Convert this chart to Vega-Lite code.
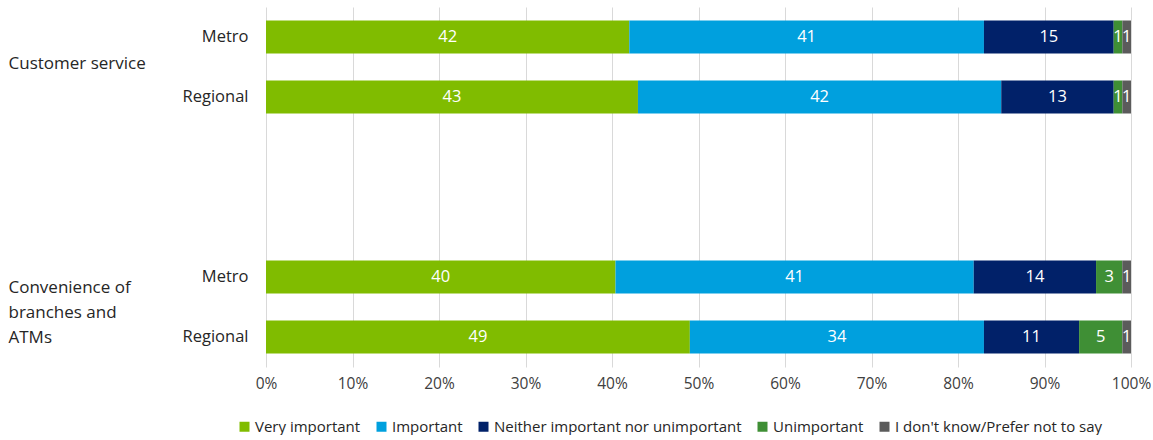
{
  "$schema": "https://vega.github.io/schema/vega-lite/v6.json",
  "width": 865,
  "height": 360,
  "padding": {"left": 8, "top": 7, "right": 0, "bottom": 0},
  "background": "white",
  "config": {
    "view": {"stroke": null},
    "font": "Open Sans",
    "axis": {"labelFont": "Open Sans", "labelColor": "#404040"},
    "legend": {"labelFont": "Open Sans"}
  },
  "data": {
    "values": [
      {"row": "CS|Metro", "response": "Very important", "k": 1, "pct": 42},
      {"row": "CS|Metro", "response": "Important", "k": 2, "pct": 41},
      {"row": "CS|Metro", "response": "Neither important nor unimportant", "k": 3, "pct": 15},
      {"row": "CS|Metro", "response": "Unimportant", "k": 4, "pct": 1},
      {"row": "CS|Metro", "response": "I don't know/Prefer not to say", "k": 5, "pct": 1},
      {"row": "CS|Regional", "response": "Very important", "k": 1, "pct": 43},
      {"row": "CS|Regional", "response": "Important", "k": 2, "pct": 42},
      {"row": "CS|Regional", "response": "Neither important nor unimportant", "k": 3, "pct": 13},
      {"row": "CS|Regional", "response": "Unimportant", "k": 4, "pct": 1},
      {"row": "CS|Regional", "response": "I don't know/Prefer not to say", "k": 5, "pct": 1},
      {"row": "CB|Metro", "response": "Very important", "k": 1, "pct": 40},
      {"row": "CB|Metro", "response": "Important", "k": 2, "pct": 41},
      {"row": "CB|Metro", "response": "Neither important nor unimportant", "k": 3, "pct": 14},
      {"row": "CB|Metro", "response": "Unimportant", "k": 4, "pct": 3},
      {"row": "CB|Metro", "response": "I don't know/Prefer not to say", "k": 5, "pct": 1},
      {"row": "CB|Regional", "response": "Very important", "k": 1, "pct": 49},
      {"row": "CB|Regional", "response": "Important", "k": 2, "pct": 34},
      {"row": "CB|Regional", "response": "Neither important nor unimportant", "k": 3, "pct": 11},
      {"row": "CB|Regional", "response": "Unimportant", "k": 4, "pct": 5},
      {"row": "CB|Regional", "response": "I don't know/Prefer not to say", "k": 5, "pct": 1}
    ]
  },
  "encoding": {
    "y": {
      "field": "row",
      "type": "nominal",
      "scale": {
        "domain": ["CS|Metro", "CS|Regional", "gap1", "gap2", "CB|Metro", "CB|Regional"],
        "paddingInner": 0.45,
        "paddingOuter": 0.225
      }
    }
  },
  "layer": [
    {
      "mark": {"type": "bar"},
      "encoding": {
        "y": {
          "field": "row",
          "type": "nominal",
          "title": null,
          "axis": {
            "orient": "left",
            "domain": false,
            "ticks": false,
            "tickSize": 0,
            "labelPadding": 18,
            "labelFontSize": 16.5,
            "labelColor": "#262626",
            "labelExpr": "indexof(datum.label, '|') >= 0 ? split(datum.label, '|')[1] : ''"
          }
        },
        "x": {
          "field": "pct",
          "type": "quantitative",
          "stack": "normalize",
          "title": null,
          "scale": {"domain": [0, 1]},
          "axis": {
            "format": "%",
            "values": [0, 0.1, 0.2, 0.3, 0.4, 0.5, 0.6, 0.7, 0.8, 0.9, 1],
            "domain": false,
            "ticks": false,
            "labelFlush": false,
            "gridColor": "#d9d9d9",
            "gridWidth": 1,
            "labelFontSize": 15.5,
            "labelColor": "#404040",
            "labelPadding": 9
          }
        },
        "color": {
          "field": "response",
          "type": "nominal",
          "sort": ["Very important", "Important", "Neither important nor unimportant", "Unimportant", "I don't know/Prefer not to say"],
          "scale": {
            "domain": ["Very important", "Important", "Neither important nor unimportant", "Unimportant", "I don't know/Prefer not to say"],
            "range": ["#80bc00", "#00a0de", "#012169", "#3f8f35", "#5b5b5b"]
          },
          "legend": {
            "title": null,
            "orient": "none",
            "direction": "horizontal",
            "legendX": -29,
            "legendY": 412,
            "symbolType": "square",
            "symbolSize": 100,
            "symbolStrokeWidth": 0,
            "labelFontSize": 15,
            "labelColor": "#262626",
            "labelOffset": 3,
            "columnPadding": 13,
            "labelLimit": 400
          }
        },
        "order": {"field": "k", "type": "quantitative"}
      }
    },
    {
      "mark": {"type": "text", "color": "white", "fontSize": 16.5, "font": "Open Sans"},
      "encoding": {
        "y": {"field": "row", "type": "nominal", "axis": null},
        "x": {
          "field": "pct",
          "type": "quantitative",
          "stack": "normalize",
          "bandPosition": 0.5,
          "title": null,
          "axis": {
            "format": "%",
            "values": [0, 0.1, 0.2, 0.3, 0.4, 0.5, 0.6, 0.7, 0.8, 0.9, 1],
            "domain": false,
            "ticks": false,
            "labelFlush": false,
            "gridColor": "#d9d9d9",
            "gridWidth": 1,
            "labelFontSize": 15.5,
            "labelColor": "#404040",
            "labelPadding": 9
          }
        },
        "text": {"field": "pct", "type": "quantitative"},
        "detail": {"field": "response", "type": "nominal"},
        "order": {"field": "k", "type": "quantitative"}
      }
    },
    {
      "mark": {"type": "text", "opacity": 0},
      "encoding": {
        "y": {
          "field": "row",
          "type": "nominal",
          "title": null,
          "axis": {
            "orient": "left",
            "domain": false,
            "ticks": false,
            "tickSize": 0,
            "grid": false,
            "labelPadding": 258,
            "labelAlign": "left",
            "labelBaseline": "middle",
            "labelOffset": {"condition": {"test": "datum.label == 'CB|Metro'", "value": 11}, "value": 27},
            "labelFontSize": 17,
            "labelLineHeight": 25,
            "labelColor": "#262626",
            "labelLimit": 300,
            "labelExpr": "datum.label == 'CS|Metro' ? 'Customer service' : (datum.label == 'CB|Metro' ? ['Convenience of', 'branches and', 'ATMs'] : '')"
          }
        },
        "text": {"value": ""}
      }
    }
  ],
  "resolve": {"axis": {"y": "independent"}}
}
